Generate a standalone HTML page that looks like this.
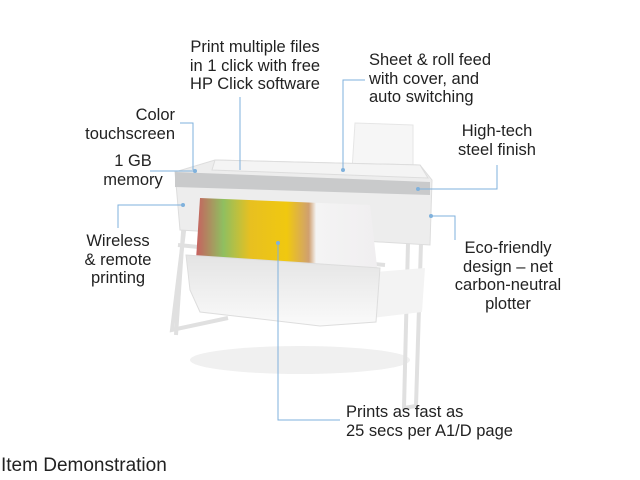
<!DOCTYPE html>
<html><head><style>
body{margin:0;width:640px;height:480px;background:#fff;overflow:hidden;position:relative;font-family:"Liberation Sans",sans-serif;}
.t{position:absolute;font-size:16.5px;color:#222;line-height:18.5px;white-space:nowrap}
.c{text-align:center}
</style></head><body>
<svg width="640" height="480" style="position:absolute;left:0;top:0">
<defs><linearGradient id="sh" x1="0" y1="0" x2="0" y2="1"><stop offset="0" stop-color="#e4e4e4"/><stop offset="1" stop-color="#fafafa"/></linearGradient>
<linearGradient id="map" x1="0" x2="1"><stop offset="0" stop-color="#c86060"/><stop offset=".15" stop-color="#8fbf60"/><stop offset=".3" stop-color="#e8c020"/><stop offset=".5" stop-color="#f0c810"/><stop offset=".62" stop-color="#d0a070"/><stop offset=".66" stop-color="#f4f4f4"/><stop offset="1" stop-color="#f0eef0"/></linearGradient></defs>
<ellipse cx="300" cy="360" rx="110" ry="14" fill="#f0f0f0"/>
<polygon points="355,123 413,125 413,170 352,170" fill="#f6f6f6" stroke="#e6e6e6"/>
<!-- legs -->
<g stroke="#e0e0e0" stroke-width="4" fill="none">
<path d="M186,215 L172,330 L228,318"/><path d="M184,218 L176,335"/>
<path d="M408,243 L404,408 L416,406 L421,243"/>
<path d="M178,245 L385,265"/>
</g>
<polygon points="175,172 215,160 420,165 432,180 430,245 180,230" fill="#ededed" stroke="#ddd"/>
<polygon points="175,172 430,182 430,195 175,187" fill="#c9cacb"/>
<polygon points="215,160 420,165 428,178 212,170" fill="#f4f4f4" stroke="#ddd"/>
<polygon points="200,198 370,205 378,275 196,260" fill="url(#map)"/>
<polygon points="375,272 425,268 422,312 372,318" fill="#f3f3f3"/>
<polygon points="186,255 380,268 376,322 320,326 200,312 190,290" fill="url(#sh)" stroke="#ddd"/>
<!-- leaders -->
<g stroke="#7fb1dc" stroke-width="1" fill="none">
<path d="M240,97 V170"/><path d="M365,80 H343 V170"/>
<path d="M180,123 H193 V170"/><path d="M150,171 H195"/>
<path d="M118,228 V205 H183"/><path d="M497,165 V189 H418"/>
<path d="M455,240 V216 H431"/><path d="M278,243 V420 H340"/>
</g>
<g fill="#7fb1dc"><circle cx="195" cy="171" r="2"/><circle cx="343" cy="170" r="2"/><circle cx="418" cy="189" r="2"/><circle cx="431" cy="216" r="2"/><circle cx="183" cy="205" r="2"/><circle cx="278" cy="243" r="2"/></g>
</svg>
<div class="t c" style="left:155px;top:38px;width:200px">Print multiple files<br>in 1 click with free<br>HP Click software</div>
<div class="t" style="left:369px;top:51px">Sheet &amp; roll feed<br>with cover, and<br>auto switching</div>
<div class="t" style="left:55px;top:106px;width:120px;text-align:right">Color<br>touchscreen</div>
<div class="t c" style="left:83px;top:152px;width:100px">1 GB<br>memory</div>
<div class="t c" style="left:437px;top:122px;width:120px">High-tech<br>steel finish</div>
<div class="t c" style="left:68px;top:232px;width:100px">Wireless<br>&amp; remote<br>printing</div>
<div class="t c" style="left:443px;top:239px;width:130px">Eco-friendly<br>design – net<br>carbon-neutral<br>plotter</div>
<div class="t" style="left:346px;top:403px">Prints as fast as<br>25 secs per A1/D page</div>
<div class="t" style="left:1px;top:457px;font-size:19px">Item Demonstration</div>
</body></html>
